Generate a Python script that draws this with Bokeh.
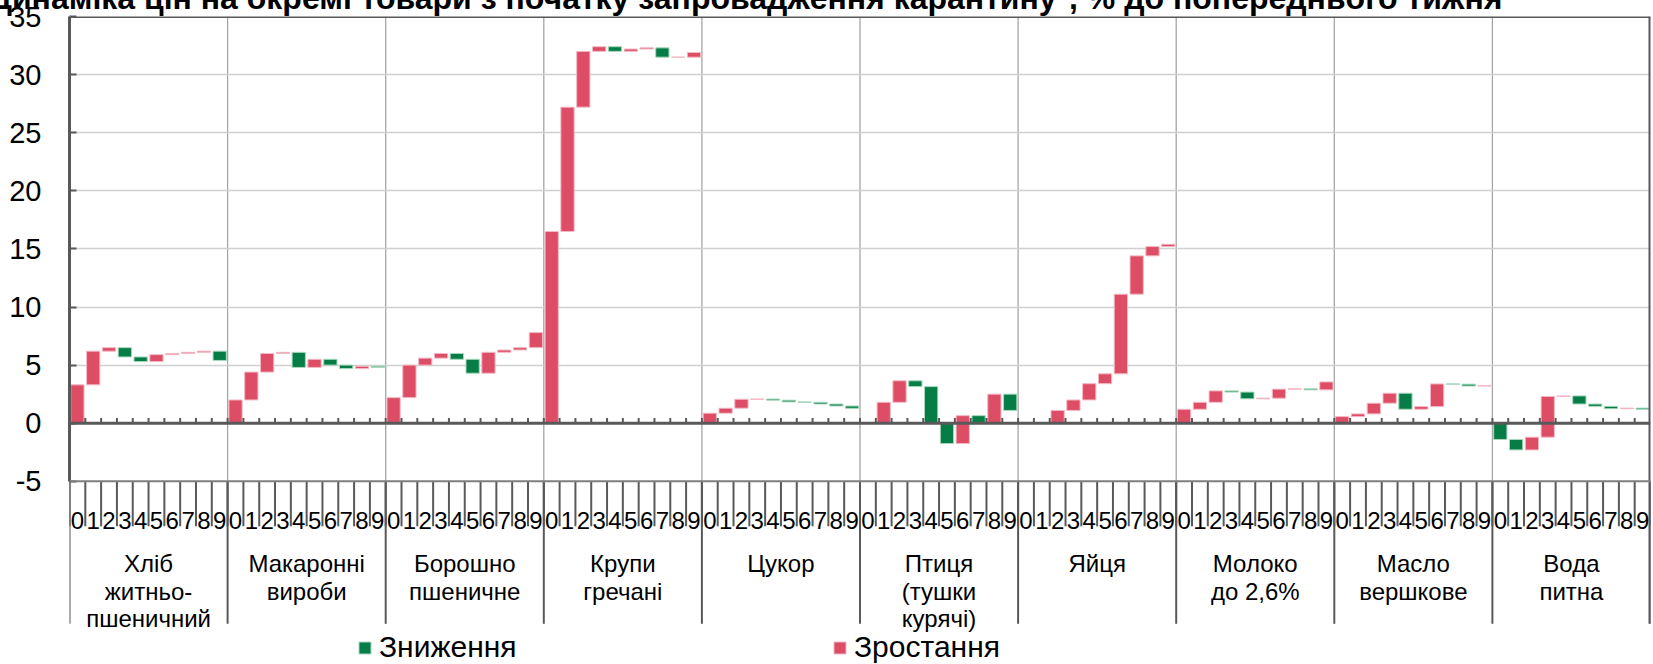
import numpy as np
from bokeh.plotting import figure
from bokeh.models import (ColumnDataSource, Range1d, FixedTicker, Span, Legend, LegendItem)
from bokeh.core.properties import value
from bokeh.embed import file_html
from bokeh.resources import INLINE

# ---------------- data ----------------
TITLE = "Динаміка цін на окремі товари з початку запровадження карантину*, % до попереднього тижня"
weeks = ["0", "1", "2", "3", "4", "5", "6", "7", "8", "9"]
groups = ["Хліб\nжитньо-\nпшеничний", "Макаронні\nвироби", "Борошно\nпшеничне",
          "Крупи\nгречані", "Цукор", "Птиця\n(тушки\nкурячі)", "Яйця",
          "Молоко\nдо 2,6%", "Масло\nвершкове", "Вода\nпитна"]
legend_labels = ["Зниження", "Зростання"]

# weekly change, % to previous week
bread = [3.3, 2.9, 0.3, -0.8, -0.4, 0.6, 0.1, 0.1, 0.1, -0.8]
pasta = [2.0, 2.4, 1.6, 0.1, -1.3, 0.7, -0.5, -0.3, 0.2, -0.1]
flour = [2.2, 2.8, 0.6, 0.4, -0.5, -1.2, 1.8, 0.2, 0.2, 1.3]
buckwheat = [16.5, 10.7, 4.8, 0.4, -0.4, 0.2, 0.1, -0.8, 0.0, 0.4]
sugar = [0.86, 0.43, 0.77, 0.02, -0.1, -0.15, -0.03, -0.15, -0.17, -0.2]
poultry = [0.0, 1.8, 1.85, -0.5, -3.15, -1.75, 2.4, -0.6, 2.45, -1.4]
eggs = [0.0, 0.0, 1.1, 0.9, 1.4, 0.85, 6.85, 3.3, 0.8, 0.2]
milk = [1.2, 0.6, 0.98, -0.1, -0.58, 0.05, 0.78, 0.03, -0.09, 0.68]
butter = [0.57, 0.23, 0.92, 0.86, -1.38, 0.23, 1.95, -0.02, -0.16, 0.02]
water = [-1.4, -0.9, 1.1, 3.5, 0.05, -0.7, -0.2, -0.2, 0.05, -0.1]

series = [bread, pasta, flour, buckwheat, sugar, poultry, eggs, milk, butter, water]

# ---------------- styles / layout ----------------
RED, RED_EDGE = "#DD4D65", "#F4B9C6"
GREEN, GREEN_EDGE = "#067D46", "#A8D8BD"
DARK = "#595959"
FONT = "Liberation Sans"
Y_MIN, Y_MAX = -5, 35
FRAME_H = 648            # px, frame from top line down to the bottom of the page
PX_PER_UNIT = 11.62      # px per 1 percentage point


def below(px):
    """y-position px pixels below the -5 line (category band)."""
    return Y_MIN - px / PX_PER_UNIT


n = len(weeks)
G = len(groups)

up = dict(x=[], top=[], bottom=[])
down = dict(x=[], top=[], bottom=[])
for g, ch in enumerate(series):
    ch = np.array(ch, dtype=float)
    cum = np.cumsum(ch)
    for d in range(n):
        tgt = up if ch[d] >= 0 else down
        tgt["x"].append(g * n + d + 0.5)
        tgt["top"].append(float(cum[d]))
        tgt["bottom"].append(float(cum[d] - ch[d]))

p = figure(width=1661, height=692, x_range=Range1d(0, G * n),
           y_range=Range1d(Y_MAX - FRAME_H / PX_PER_UNIT, Y_MAX),
           output_backend="svg", toolbar_location=None, x_axis_type=None,
           min_border_left=77, min_border_right=3, min_border_top=44, min_border_bottom=0)
p.styles = {"margin": "-28px -16px -16px -8px"}
p.outline_line_color = None
p.background_fill_color = "white"
p.border_fill_color = "white"

# title (cut at the top like the original)
p.title.text = TITLE
p.title.align = "right"
p.title.offset = 148
p.title.standoff = 1
p.title.text_font = FONT
p.title.text_font_style = "bold"
p.title.text_font_size = "32px"
p.title.text_color = "black"

# horizontal grid
p.ygrid.ticker = FixedTicker(ticks=[5, 10, 15, 20, 25, 30])
p.ygrid.grid_line_color = "#D0D0D0"
p.ygrid.grid_line_width = 1.3

# y axis
yax = p.yaxis[0]
yax.ticker = FixedTicker(ticks=list(range(Y_MIN, Y_MAX + 1, 5)))
yax.bounds = (Y_MIN, Y_MAX)
yax.major_label_overrides = {-5: "-5"}
yax.major_tick_in = 7
yax.major_tick_out = 0
yax.minor_tick_line_color = None
yax.axis_line_color = DARK
yax.axis_line_width = 3
yax.major_tick_line_color = DARK
yax.major_tick_line_width = 2
yax.major_label_text_font = FONT
yax.major_label_text_font_size = "29px"
yax.major_label_text_color = "black"
yax.major_label_standoff = 28

# vertical group lines inside the plot area
gb_inner = list(range(n, G * n, n))
p.segment(x0=gb_inner, y0=[Y_MIN] * len(gb_inner), x1=gb_inner, y1=[Y_MAX] * len(gb_inner),
          line_color="#A6A6A6", line_width=1.3, level="underlay")

# bars
r_up = p.vbar(x="x", top="top", bottom="bottom", width=0.84, source=ColumnDataSource(up),
              fill_color=RED, line_color=RED_EDGE, line_width=1)
r_down = p.vbar(x="x", top="top", bottom="bottom", width=0.84, source=ColumnDataSource(down),
                fill_color=GREEN, line_color=GREEN_EDGE, line_width=1)

# zero axis with small ticks
p.add_layout(Span(location=0, dimension="width", line_color=DARK, line_width=3))
bounds = list(range(0, G * n + 1))
inner = bounds[1:-1]
p.segment(x0=inner, y0=[0] * len(inner), x1=inner, y1=[0.45] * len(inner),
          line_color=DARK, line_width=2)
# frame top / bottom (-5)
p.add_layout(Span(location=Y_MAX, dimension="width", line_color=DARK, line_width=3))
p.add_layout(Span(location=Y_MIN, dimension="width", line_color="#7F7F7F", line_width=2))
# right frame line, continuing as the last group separator
p.segment(x0=[G * n], y0=[below(142.5)], x1=[G * n], y1=[Y_MAX], line_color=DARK, line_width=4)

# ---- category band: week numbers and product groups ----
p.segment(x0=bounds, y0=[Y_MIN] * len(bounds), x1=bounds, y1=[below(45)] * len(bounds),
          line_color=DARK, line_width=2)
centers = [g * n + d + 0.5 for g in range(G) for d in range(n)]
p.text(x=centers, y=[below(39)] * len(centers), text=[weeks[i % n] for i in range(len(centers))],
       text_font=value(FONT), text_font_size="24px", text_color="black",
       text_align="center", text_baseline="alphabetic")

gbounds = list(range(0, G * n + 1, n))
p.segment(x0=gbounds, y0=[Y_MIN] * len(gbounds), x1=gbounds, y1=[below(142.5)] * len(gbounds),
          line_color=DARK, line_width=2)
gl_x, gl_y, gl_t = [], [], []
for g, name in enumerate(groups):
    for k, line in enumerate(name.split("\n")):
        gl_x.append(g * n + n / 2)
        gl_y.append(below(82.5 + 27.5 * k))
        gl_t.append(line)
p.text(x=gl_x, y=gl_y, text=gl_t, text_font=value(FONT), text_font_size="24px",
       text_color="black", text_align="center", text_baseline="alphabetic")

legend = Legend(items=[LegendItem(label=legend_labels[0], renderers=[r_down]),
                       LegendItem(label=legend_labels[1], renderers=[r_up])],
                location=(288, 0), orientation="horizontal", padding=0, margin=0, spacing=0,
                label_standoff=7, label_width=453, glyph_width=15, glyph_height=15,
                label_text_font=FONT, label_text_font_size="30px", label_text_color="black",
                border_line_color=None, background_fill_alpha=0)
p.add_layout(legend)

open("out.html", "w").write(file_html(p, INLINE))
